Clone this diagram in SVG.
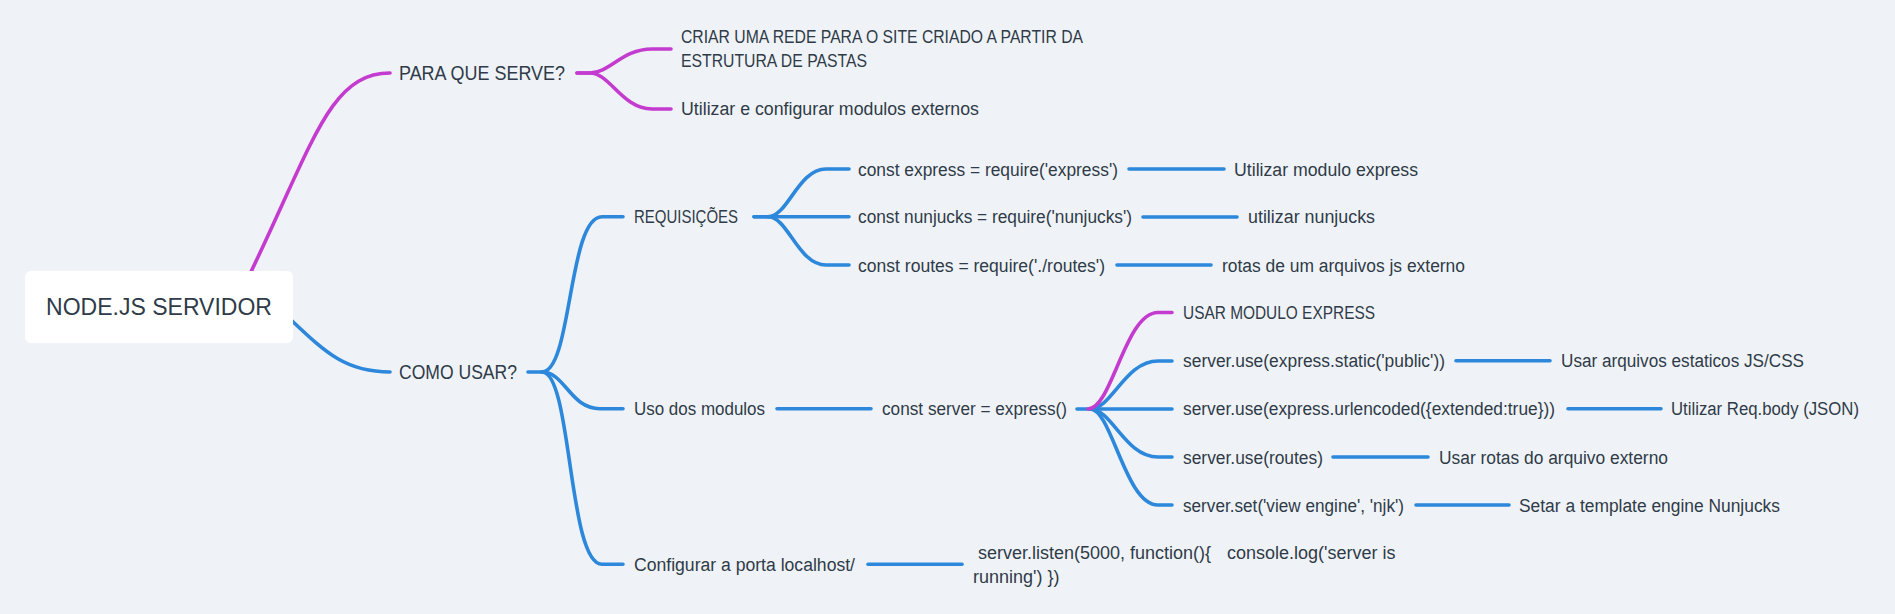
<svg xmlns="http://www.w3.org/2000/svg" width="1895" height="614" viewBox="0 0 1895 614">
<style>
.t{font-family:"Liberation Sans",Arial,sans-serif;fill:#2f3b48;font-size:18px}
.m{font-size:20px}
.r{font-size:24px}
.c{fill:none;stroke-width:3.6;stroke-linecap:round;stroke-linejoin:round}
.b{stroke:#2d88db}
.p{stroke:#c43bd0}
</style>
<rect width="1895" height="614" fill="#eff3f7"/>
<g id="connectors">
<path class="c p" d="M249,276 C314,141 330,73 390,73"/>
<path class="c b" d="M290,319 C325,352 345,372 390,372"/>
<path class="c p" d="M577,73 L590,73 C610,73 622,49 652,49 L671,49"/>
<path class="c p" d="M577,73 L590,73 C610,73 622,109 652,109 L671,109"/>
<path class="c b" d="M528,372 L542,372 C572,372 568,216.7 602,216.7 L623,216.7"/>
<path class="c b" d="M542,372 C565,372 570,408.7 600,408.7 L623,408.7"/>
<path class="c b" d="M542,372 C572,372 568,564.3 602,564.3 L623,564.3"/>
<path class="c b" d="M754,216.7 L768,216.7 C788,216.7 798,169 826,169 L849,169"/>
<path class="c b" d="M754,216.7 L849,216.7"/>
<path class="c b" d="M768,216.7 C788,216.7 798,265 826,265 L849,265"/>
<path class="c b" d="M1129,169 L1224,169"/>
<path class="c b" d="M1143,217 L1237,217"/>
<path class="c b" d="M1117,265 L1211,265"/>
<path class="c b" d="M777,408.7 L871,408.7"/>
<path class="c b" d="M1077,409 L1090,409 C1112,409 1125,361 1158,361 L1172,361"/>
<path class="c b" d="M1090,409 L1172,409"/>
<path class="c b" d="M1090,409 C1112,409 1125,457 1158,457 L1172,457"/>
<path class="c b" d="M1090,409 C1112,409 1125,505 1158,505 L1172,505"/>
<path class="c p" d="M1088,409 C1112,409 1125,312.5 1158,312.5 L1172,312.5"/>
<path class="c b" d="M1456,360.7 L1550,360.7"/>
<path class="c b" d="M1568,408.7 L1661,408.7"/>
<path class="c b" d="M1333,457 L1428,457"/>
<path class="c b" d="M1416,505 L1509,505"/>
<path class="c b" d="M868,564.3 L962,564.3"/>
</g>
<g id="root">
<rect x="25" y="271" width="268" height="72" rx="6" fill="#ffffff"/>
<text class="t r" x="46" y="315" textLength="226" lengthAdjust="spacingAndGlyphs">NODE.JS SERVIDOR</text>
</g>
<g id="para-que-serve"><text class="t m" x="399" y="80" textLength="166" lengthAdjust="spacingAndGlyphs">PARA QUE SERVE?</text></g>
<g id="criar-rede"><text class="t"><tspan x="681" y="43.3" textLength="402" lengthAdjust="spacingAndGlyphs">CRIAR UMA REDE PARA O SITE CRIADO A PARTIR DA</tspan><tspan x="681" y="66.7" textLength="186" lengthAdjust="spacingAndGlyphs">ESTRUTURA DE PASTAS</tspan></text></g>
<g id="utilizar-modulos"><text class="t" x="681" y="115" textLength="298" lengthAdjust="spacingAndGlyphs">Utilizar e configurar modulos externos</text></g>
<g id="como-usar"><text class="t m" x="399" y="379" textLength="118" lengthAdjust="spacingAndGlyphs">COMO USAR?</text></g>
<g id="requisicoes"><text class="t" x="634" y="223" textLength="104" lengthAdjust="spacingAndGlyphs">REQUISIÇÕES</text></g>
<g id="req-express"><text class="t" x="858" y="175.5" textLength="260" lengthAdjust="spacingAndGlyphs">const express = require('express')</text></g>
<g id="req-nunjucks"><text class="t" x="858" y="223" textLength="274" lengthAdjust="spacingAndGlyphs">const nunjucks = require('nunjucks')</text></g>
<g id="req-routes"><text class="t" x="858" y="271.5" textLength="247" lengthAdjust="spacingAndGlyphs">const routes = require('./routes')</text></g>
<g id="desc-express"><text class="t" x="1234" y="175.5" textLength="184" lengthAdjust="spacingAndGlyphs">Utilizar modulo express</text></g>
<g id="desc-nunjucks"><text class="t" x="1248" y="223" textLength="127" lengthAdjust="spacingAndGlyphs">utilizar nunjucks</text></g>
<g id="desc-routes"><text class="t" x="1222" y="271.5" textLength="243" lengthAdjust="spacingAndGlyphs">rotas de um arquivos js externo</text></g>
<g id="uso-modulos"><text class="t" x="634" y="415" textLength="131" lengthAdjust="spacingAndGlyphs">Uso dos modulos</text></g>
<g id="const-server"><text class="t" x="882" y="415" textLength="185" lengthAdjust="spacingAndGlyphs">const server = express()</text></g>
<g id="usar-modulo-express"><text class="t" x="1183" y="319" textLength="192" lengthAdjust="spacingAndGlyphs">USAR MODULO EXPRESS</text></g>
<g id="use-static"><text class="t" x="1183" y="367" textLength="262" lengthAdjust="spacingAndGlyphs">server.use(express.static('public'))</text></g>
<g id="desc-static"><text class="t" x="1561" y="367" textLength="243" lengthAdjust="spacingAndGlyphs">Usar arquivos estaticos JS/CSS</text></g>
<g id="use-urlencoded"><text class="t" x="1183" y="415" textLength="372" lengthAdjust="spacingAndGlyphs">server.use(express.urlencoded({extended:true}))</text></g>
<g id="desc-urlencoded"><text class="t" x="1671" y="415" textLength="188" lengthAdjust="spacingAndGlyphs">Utilizar Req.body (JSON)</text></g>
<g id="use-routes"><text class="t" x="1183" y="463.5" textLength="140" lengthAdjust="spacingAndGlyphs">server.use(routes)</text></g>
<g id="desc-use-routes"><text class="t" x="1439" y="463.5" textLength="229" lengthAdjust="spacingAndGlyphs">Usar rotas do arquivo externo</text></g>
<g id="set-view"><text class="t" x="1183" y="511.5" textLength="221" lengthAdjust="spacingAndGlyphs">server.set('view engine', 'njk')</text></g>
<g id="desc-set-view"><text class="t" x="1519" y="511.5" textLength="261" lengthAdjust="spacingAndGlyphs">Setar a template engine Nunjucks</text></g>
<g id="configurar-porta"><text class="t" x="634" y="571" textLength="221" lengthAdjust="spacingAndGlyphs">Configurar a porta localhost/</text></g>
<g id="server-listen"><text class="t" xml:space="preserve"><tspan x="973" y="558.5"> server.listen(5000, function(){     </tspan><tspan x="1227" y="558.5">console.log('server is</tspan><tspan x="973" y="582.7">running') })</tspan></text></g>
</svg>
